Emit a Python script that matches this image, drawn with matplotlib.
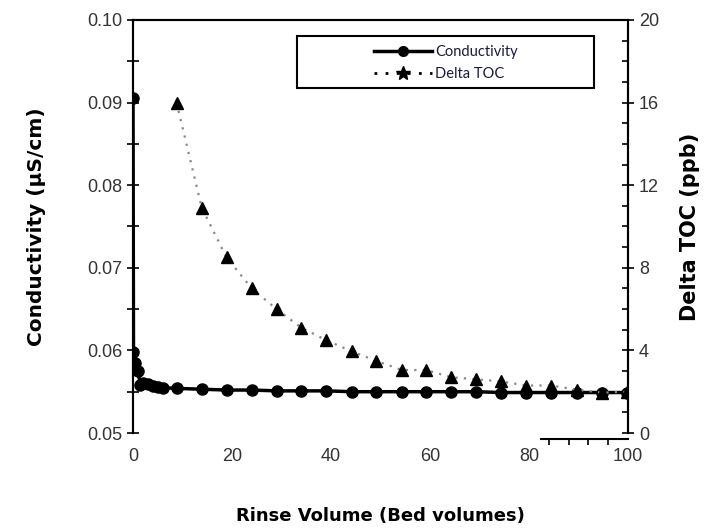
import matplotlib.pyplot as plt
from matplotlib.lines import Line2D
from matplotlib.patches import Rectangle
from matplotlib.ticker import MultipleLocator, FixedLocator

# rinse volume (bed volumes)
x_tail = [8.8, 13.9, 18.9, 24.0, 29.0, 34.0, 39.0, 44.2, 49.1, 54.3,
          59.2, 64.3, 69.3, 74.3, 79.4, 84.5, 89.6, 94.7, 99.8]

cond_x = [0, 0.1, 0.5, 1.0, 1.5, 2.0, 3.0, 4.0, 5.0, 6.0] + x_tail
cond_y = [0.0905, 0.0598, 0.0585, 0.0575, 0.0558, 0.0560, 0.0559, 0.0557, 0.0556, 0.0555,
          0.0554, 0.0553, 0.0552, 0.0552, 0.0551, 0.0551, 0.0551, 0.0550, 0.0550, 0.0550,
          0.0550, 0.0550, 0.0550, 0.0549, 0.0549, 0.0549, 0.0549, 0.0549, 0.0549]

toc_x = x_tail
toc_y = [16.0, 10.9, 8.5, 7.0, 6.0, 5.1, 4.5, 3.95, 3.5, 3.05,
         3.05, 2.7, 2.6, 2.5, 2.3, 2.3, 2.1, 1.95, 2.0]

plt.rcParams['font.family'] = ['Liberation Sans', 'DejaVu Sans']

fig = plt.figure(figsize=(7.08, 5.29), dpi=100)
ax = fig.add_axes([133/708, 1 - 433/529, 495/708, 413/529])
ax2 = ax.twinx()

ax.plot(cond_x, cond_y, color='black', lw=2.5, marker='o', ms=8, zorder=3)
ax2.plot(toc_x, toc_y, color='#888888', lw=1.6, ls=(0, (1, 2.8)),
         marker='^', ms=8, mfc='black', mec='black')

ax.set_xlim(0, 100)
ax.set_ylim(0.05, 0.10)
ax2.set_ylim(0, 20)

# left axis
ax.yaxis.set_major_locator(MultipleLocator(0.01))
ax.yaxis.set_minor_locator(MultipleLocator(0.005))
ax.yaxis.set_major_formatter(plt.FormatStrFormatter('%.2f'))
ax.tick_params(axis='y', which='both', direction='inout', length=8, width=1.2,
               labelsize=13, colors='black', labelcolor='#333333')

# right axis
ax2.yaxis.set_major_locator(MultipleLocator(4))
ax2.yaxis.set_minor_locator(MultipleLocator(1))
ax2.tick_params(axis='y', which='major', direction='inout', length=9, width=1.2,
                labelsize=13, labelcolor='#333333')
ax2.tick_params(axis='y', which='minor', direction='in', length=4, width=1.2)

# bottom axis: only a short stub near the right end is drawn
ax.set_xticks([0, 20, 40, 60, 80, 100])
ax.xaxis.set_minor_locator(FixedLocator([84, 88, 92, 96, 100]))
ax.tick_params(axis='x', which='major', length=0, pad=7, labelsize=13, labelcolor='#333333')
ax.tick_params(axis='x', which='minor', direction='out', length=4, width=1.2)
ax.spines['bottom'].set_bounds(82.5, 100)
ax.spines['bottom'].set_position(('outward', 4))

for a in (ax, ax2):
    for s in a.spines.values():
        s.set_linewidth(1.5)
ax2.spines['bottom'].set_visible(False)

ax.set_xlabel('Rinse Volume (Bed volumes)', fontsize=13, fontweight='bold',
              family='DejaVu Sans', labelpad=30)
ax.set_ylabel('Conductivity (µS/cm)', fontsize=14.5, fontweight='bold',
              family='DejaVu Sans', labelpad=30)
ax2.set_ylabel('Delta TOC (ppb)', fontsize=15, fontweight='bold',
               family='DejaVu Sans', labelpad=15)

# legend: plain box, entries centred inside it
fig.patches.append(Rectangle((297/708, 1 - 88/529), 297/708, 52/529,
                             transform=fig.transFigure, fill=False,
                             edgecolor='black', lw=1.5))
handles = [
    Line2D([], [], color='black', lw=2.5, marker='o', ms=7),
    Line2D([], [], color='black', lw=2, ls=(0, (1, 3)), marker='*', ms=10),
]
leg = fig.legend(handles, ['Conductivity', 'Delta TOC'], loc='center',
                 bbox_to_anchor=(446/708, 1 - 63/529), frameon=False,
                 prop={'family': 'Lato', 'size': 10.5},
                 handlelength=4.0, handletextpad=0.2, labelspacing=0.6)
for t in leg.get_texts():
    t.set_color('#1a1a40')

fig.savefig('out.png', dpi=100)
